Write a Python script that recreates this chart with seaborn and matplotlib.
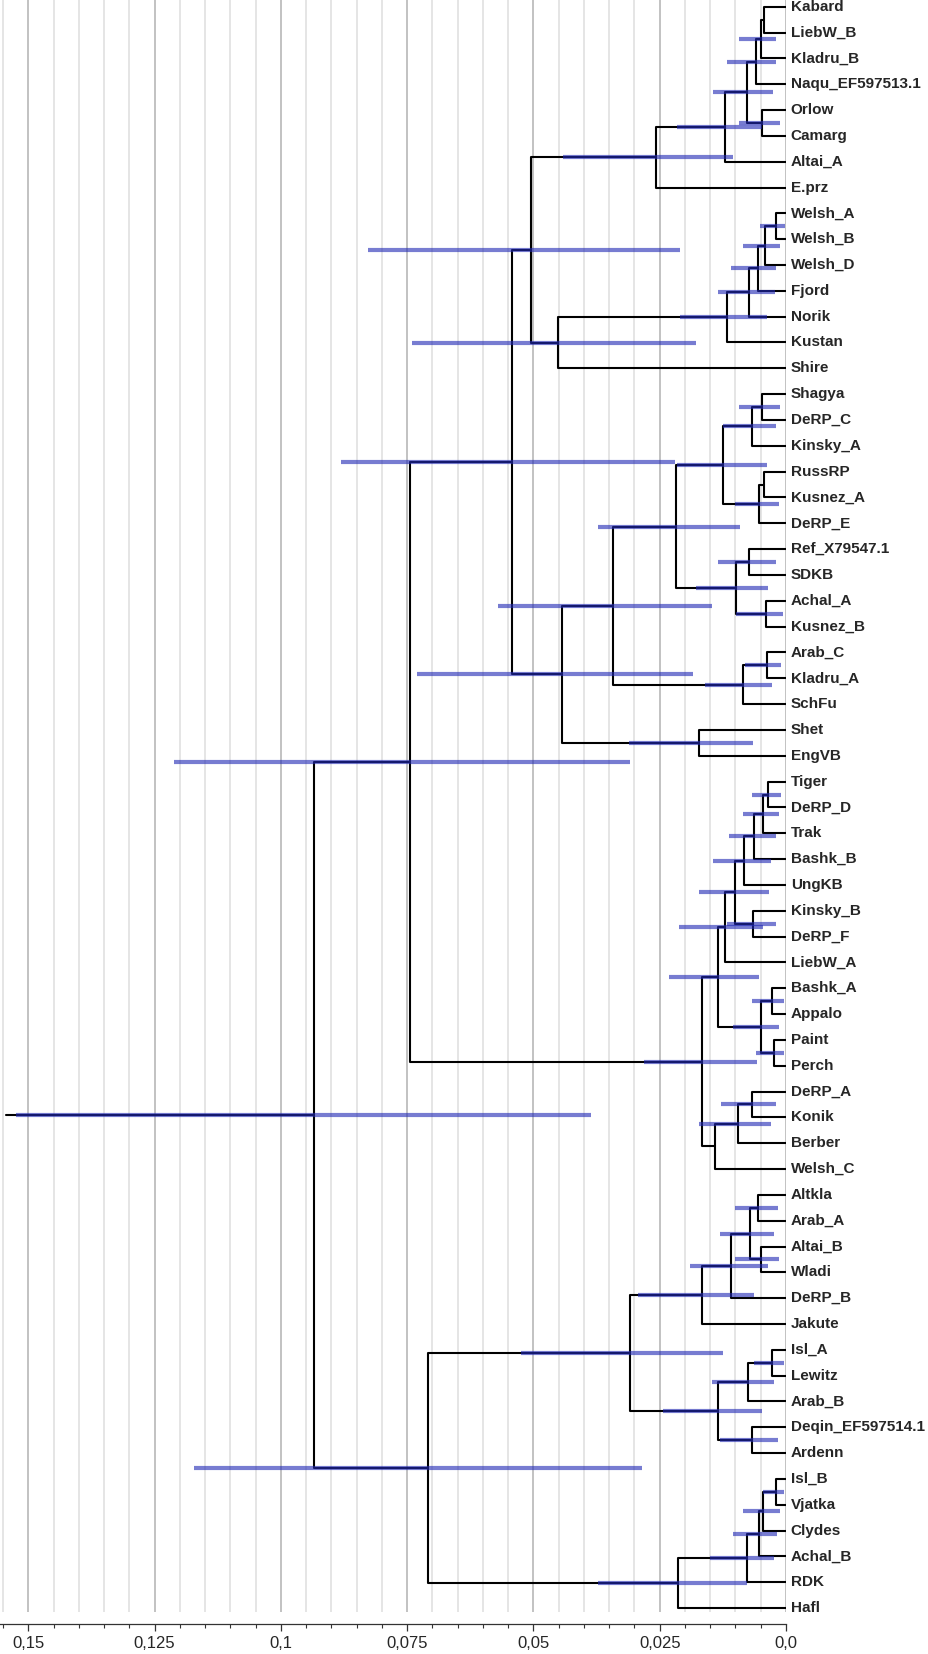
import numpy as np
import pandas as pd
import matplotlib
matplotlib.use("Agg")
import matplotlib.pyplot as plt
from matplotlib.ticker import MultipleLocator, FixedLocator, FixedFormatter
import seaborn as sns

# leaf order top -> bottom
leaves = ["Kabard", "LiebW_B", "Kladru_B", "Naqu_EF597513.1", "Orlow", "Camarg",
          "Altai_A", "E.prz", "Welsh_A", "Welsh_B", "Welsh_D", "Fjord", "Norik",
          "Kustan", "Shire", "Shagya", "DeRP_C", "Kinsky_A", "RussRP", "Kusnez_A",
          "DeRP_E", "Ref_X79547.1", "SDKB", "Achal_A", "Kusnez_B", "Arab_C",
          "Kladru_A", "SchFu", "Shet", "EngVB", "Tiger", "DeRP_D", "Trak", "Bashk_B",
          "UngKB", "Kinsky_B", "DeRP_F", "LiebW_A", "Bashk_A", "Appalo", "Paint",
          "Perch", "DeRP_A", "Konik", "Berber", "Welsh_C", "Altkla", "Arab_A",
          "Altai_B", "Wladi", "DeRP_B", "Jakute", "Isl_A", "Lewitz", "Arab_B",
          "Deqin_EF597514.1", "Ardenn", "Isl_B", "Vjatka", "Clydes", "Achal_B",
          "RDK", "Hafl"]

# internal nodes: name, children, height, 95% HPD (nan = no bar shown)
node_name = ["A", "B", "C", "D", "E", "F", "G", "H", "I", "J", "K", "L", "M", "N",
             "S", "T", "U", "V", "R", "W", "X", "Y", "Q", "Z", "AA", "AB", "AD", "AC", "O",
             "BH", "BG", "BF", "BE", "BI", "BD", "BB", "BJ", "BK", "BC", "AX", "BA", "AZ",
             "AY", "AW", "AE", "AL", "AM", "AK", "AJ", "AI", "AQ", "AO", "AP", "AN", "AH",
             "AV", "AU", "AT", "AS", "AR", "AG", "root"]
node_left = ["Kabard", "A", "B", "Orlow", "C", "E", "F", "Welsh_A", "H", "I", "J", "K", "L", "G",
             "Shagya", "S", "RussRP", "U", "T", "Ref_X79547.1", "Achal_A", "W", "R", "Arab_C",
             "Z", "Q", "Shet", "AB", "N",
             "Tiger", "BH", "BG", "BF", "Kinsky_B", "BE", "BD", "Bashk_A", "Paint", "BJ", "BB",
             "DeRP_A", "BA", "AZ", "AX", "O", "Altkla", "Altai_B", "AL", "AK", "AJ", "Isl_A",
             "AQ", "Deqin_EF597514.1", "AO", "AI", "Isl_B", "AV", "AU", "AT", "AS", "AH", "AE"]
node_right = ["LiebW_B", "Kladru_B", "Naqu_EF597513.1", "Camarg", "D", "Altai_A", "E.prz",
              "Welsh_B", "Welsh_D", "Fjord", "Norik", "Kustan", "Shire", "M",
              "DeRP_C", "Kinsky_A", "Kusnez_A", "DeRP_E", "V", "SDKB", "Kusnez_B", "X", "Y",
              "Kladru_A", "SchFu", "AA", "EngVB", "AD", "AC",
              "DeRP_D", "Trak", "Bashk_B", "UngKB", "DeRP_F", "BI", "LiebW_A", "Appalo",
              "Perch", "BK", "BC", "Konik", "Berber", "Welsh_C", "AY", "AW", "Arab_A",
              "Wladi", "AM", "DeRP_B", "Jakute", "Lewitz", "Arab_B", "Ardenn", "AP", "AN",
              "Vjatka", "Clydes", "Achal_B", "RDK", "Hafl", "AR", "AG"]
node_height = [0.0043, 0.0050, 0.0059, 0.0047, 0.0078, 0.0120, 0.0257, 0.0020, 0.0042,
               0.0056, 0.0073, 0.0116, 0.0451, 0.0505,
               0.0047, 0.0067, 0.0043, 0.0053, 0.0124, 0.0073, 0.0040, 0.0098, 0.0218,
               0.0037, 0.0085, 0.0342, 0.0172, 0.0444, 0.0542,
               0.0035, 0.0045, 0.0063, 0.0083, 0.0065, 0.0100, 0.0121, 0.0028, 0.0023,
               0.0050, 0.0134, 0.0068, 0.0096, 0.0141, 0.0167, 0.0745, 0.0055, 0.0050,
               0.0071, 0.0108, 0.0167, 0.0028, 0.0076, 0.0067, 0.0134, 0.0309,
               0.0020, 0.0045, 0.0053, 0.0078, 0.0213, 0.0708, 0.0934]
hpd_low = [np.nan, 0.0019, 0.0020, 0.0012, 0.0026, 0.0048, 0.0104, 0.0002, 0.0012,
           0.0019, 0.0022, 0.0038, 0.0179, 0.0210,
           0.0012, 0.0020, np.nan, 0.0013, 0.0038, 0.0020, 0.0005, 0.0036, 0.0091,
           0.0009, 0.0028, 0.0146, 0.0065, 0.0184, 0.0220,
           0.0009, 0.0013, 0.0020, 0.0030, 0.0020, 0.0033, 0.0046, 0.0003, 0.0003,
           0.0013, 0.0053, 0.0020, 0.0030, np.nan, 0.0058, 0.0309, 0.0015, 0.0013,
           0.0024, 0.0035, 0.0063, 0.0003, 0.0024, 0.0016, 0.0048, 0.0124,
           0.0003, 0.0012, 0.0018, 0.0024, 0.0078, 0.0285, 0.0387]
hpd_high = [np.nan, 0.0094, 0.0116, 0.0094, 0.0144, 0.0215, 0.0441, 0.0052, 0.0086,
            0.0108, 0.0134, 0.0210, 0.0740, 0.0828,
            0.0093, 0.0125, np.nan, 0.0101, 0.0216, 0.0134, 0.0098, 0.0179, 0.0373,
            0.0081, 0.0160, 0.0571, 0.0311, 0.0731, 0.0880,
            0.0068, 0.0086, 0.0113, 0.0144, 0.0117, 0.0172, 0.0211, 0.0067, 0.0059,
            0.0104, 0.0231, 0.0129, 0.0172, np.nan, 0.0281, 0.1212, 0.0101, 0.0101,
            0.0131, 0.0190, 0.0292, 0.0063, 0.0146, 0.0131, 0.0243, 0.0524,
            0.0045, 0.0085, 0.0104, 0.0150, 0.0373, 0.1171, 0.1525]
root_stem = 0.1544

tick_values = [0.15, 0.125, 0.1, 0.075, 0.05, 0.025, 0.0]
tick_labels = ["0,15", "0,125", "0,1", "0,075", "0,05", "0,025", "0,0"]

# positions: leaves get row index, internal nodes the mean of their children
height = {name: 0.0 for name in leaves}
ypos = {name: float(i) for i, name in enumerate(leaves)}
for n, l, r, h in zip(node_name, node_left, node_right, node_height):
    height[n] = h
    ypos[n] = (ypos[l] + ypos[r]) / 2

# one bracket per internal node: child1 -> node -> child2
rows = []
for k, (n, l, r) in enumerate(zip(node_name, node_left, node_right)):
    pts = [(height[l], ypos[l]), (height[n], ypos[l]), (height[n], ypos[r]), (height[r], ypos[r])]
    for x, y in pts:
        rows.append({"x": x, "y": y, "seg": k})
rows.append({"x": root_stem, "y": ypos["root"], "seg": len(node_name)})
rows.append({"x": height["root"], "y": ypos["root"], "seg": len(node_name)})
branches = pd.DataFrame(rows)

bars = pd.DataFrame({"lo": hpd_low, "hi": hpd_high, "y": [ypos[n] for n in node_name]}).dropna()
bar_rows = []
for k, b in enumerate(bars.itertuples()):
    bar_rows.append({"x": b.lo, "y": b.y, "seg": k})
    bar_rows.append({"x": b.hi, "y": b.y, "seg": k})
bar_df = pd.DataFrame(bar_rows)

sns.set_style("white")
plt.rcParams["font.family"] = ["Liberation Sans", "DejaVu Sans"]

fig = plt.figure(figsize=(9.29, 16.54), dpi=100)
ax = fig.add_axes([0.0, 0.0254, 786 / 929, 0.9746])

sns.lineplot(data=branches, x="x", y="y", units="seg", estimator=None, sort=False,
             color="black", lw=1.5, ax=ax, legend=False, zorder=3)
# translucent HPD bars on top of the branches
sns.lineplot(data=bar_df, x="x", y="y", units="seg", estimator=None, sort=False,
             color=(0.13, 0.16, 0.71), alpha=0.61, lw=3.0, ax=ax, legend=False,
             zorder=4, solid_capstyle="butt")

for name in leaves:
    ax.annotate(name, (0.0, ypos[name]), xytext=(3.5, 0), textcoords="offset points",
                va="center", ha="left", fontsize=11, fontweight="bold",
                annotation_clip=False)

ax.set_xlim(0.1556, 0.0)
ax.set_ylim(62.15, -0.26)
ax.xaxis.set_major_locator(FixedLocator(tick_values))
ax.xaxis.set_major_formatter(FixedFormatter(tick_labels))
ax.xaxis.set_minor_locator(MultipleLocator(0.005))
ax.grid(True, axis="x", which="major", color="#bdbdbd", lw=1.3)
ax.grid(True, axis="x", which="minor", color="#e3e3e3", lw=1.3)
ax.set_axisbelow(True)
ax.set_yticks([])
ax.set_xlabel("")
ax.set_ylabel("")
for side in ["left", "top", "right"]:
    ax.spines[side].set_visible(False)
ax.spines["bottom"].set_position(("outward", 9))
ax.spines["bottom"].set_color("#333333")
ax.spines["bottom"].set_linewidth(0.9)
ax.tick_params(axis="x", which="major", length=5, width=0.9, color="#333333",
               labelsize=12, pad=3, bottom=True)
ax.tick_params(axis="x", which="minor", length=3, width=0.8, color="#333333", bottom=True)

fig.savefig("out.png", dpi=100)
